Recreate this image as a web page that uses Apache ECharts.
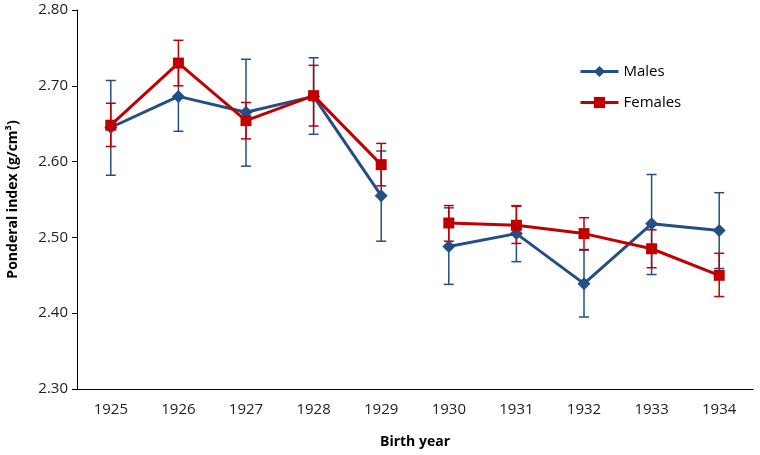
<!DOCTYPE html>
<html>
<head>
<meta charset="utf-8">
<script src="https://cdn.jsdelivr.net/npm/echarts@6/dist/echarts.min.js"></script>
<style>html,body{margin:0;padding:0;background:#fff}#c{width:760px;height:455px}</style>
</head>
<body>
<div id="c"></div>
<script>
var categories = ['1925','1926','1927','1928','1929','1930','1931','1932','1933','1934'];
var males      = [2.645, 2.686, 2.665, 2.686, 2.555, 2.488, 2.505, 2.439, 2.518, 2.509];
var malesLow   = [2.582, 2.640, 2.594, 2.636, 2.495, 2.438, 2.468, 2.395, 2.451, 2.459];
var malesHigh  = [2.707, 2.732, 2.735, 2.737, 2.614, 2.539, 2.542, 2.483, 2.583, 2.559];
var females     = [2.648, 2.730, 2.654, 2.687, 2.596, 2.519, 2.516, 2.505, 2.485, 2.450];
var femalesLow  = [2.620, 2.700, 2.630, 2.647, 2.568, 2.495, 2.492, 2.484, 2.460, 2.422];
var femalesHigh = [2.677, 2.760, 2.678, 2.727, 2.624, 2.542, 2.541, 2.526, 2.510, 2.479];
var yTicks = [2.30, 2.40, 2.50, 2.60, 2.70, 2.80];
var breakAfter = 4; // line is broken between 1929 and 1930

var BLUE = '#234f84', RED = '#c00000';
var FONT = "'Open Sans','Liberation Sans',sans-serif";

function errData(lo, hi) {
  return categories.map(function (c, i) { return [i, lo[i], hi[i]]; });
}
function errSeries(name, lo, hi, color, z) {
  return {
    type: 'custom', name: name + ' error', z: z, silent: true,
    data: errData(lo, hi),
    encode: { x: 0, y: [1, 2] },
    renderItem: function (params, api) {
      var x = api.value(0);
      var p1 = api.coord([x, api.value(1)]);
      var p2 = api.coord([x, api.value(2)]);
      var w = 5;
      var st = { stroke: color, lineWidth: 1.5 };
      return {
        type: 'group',
        children: [
          { type: 'line', shape: { x1: p1[0], y1: p1[1], x2: p2[0], y2: p2[1] }, style: st },
          { type: 'line', shape: { x1: p1[0] - w, y1: p1[1], x2: p1[0] + w, y2: p1[1] }, style: st },
          { type: 'line', shape: { x1: p2[0] - w, y1: p2[1], x2: p2[0] + w, y2: p2[1] }, style: st }
        ]
      };
    }
  };
}
function segment(vals, first) {
  return vals.map(function (v, i) {
    return (first ? i <= breakAfter : i > breakAfter) ? v : null;
  });
}
function lineSeries(name, vals, first, color, symbol, size, z) {
  return {
    name: name, type: 'line', data: segment(vals, first), z: z,
    connectNulls: false,
    symbol: symbol, symbolSize: size,
    lineStyle: { color: color, width: 3 }, itemStyle: { color: color }
  };
}

var chart = echarts.init(document.getElementById('c'));
chart.setOption({
  animation: false,
  backgroundColor: '#fff',
  grid: { left: 77, right: 7, top: 10, bottom: 66, outerBoundsMode: 'none' },
  legend: {
    data: ['Males', 'Females'],
    orient: 'vertical', left: 574, top: 59, itemGap: 16,
    itemWidth: 38, itemHeight: 14,
    lineStyle: { width: 3 },
    textStyle: { fontFamily: FONT, fontSize: 15, color: '#000' }
  },
  xAxis: {
    type: 'category', data: categories,
    name: 'Birth year', nameLocation: 'middle', nameGap: 46,
    nameTextStyle: { fontFamily: FONT, fontSize: 14, fontWeight: 'bold', color: '#000' },
    axisLine: { lineStyle: { color: '#000', width: 1 } },
    axisTick: { alignWithLabel: true, length: 5, lineStyle: { color: '#000' } },
    axisLabel: { fontFamily: FONT, fontSize: 15, color: '#222', margin: 13 }
  },
  yAxis: {
    type: 'value', min: 2.3, max: 2.8, interval: 0.1,
    name: 'Ponderal index (g/cm\u00b3)', nameLocation: 'middle', nameGap: 57,
    nameTextStyle: { fontFamily: FONT, fontSize: 14, fontWeight: 'bold', color: '#000' },
    axisLine: { show: true, lineStyle: { color: '#000', width: 1 } },
    axisTick: { show: true, length: 5, lineStyle: { color: '#000' } },
    splitLine: { show: false },
    axisLabel: {
      fontFamily: FONT, fontSize: 15, color: '#222', margin: 9,
      formatter: function (v) { return v.toFixed(2); }
    }
  },
  series: [
    errSeries('Males', malesLow, malesHigh, BLUE, 2),
    errSeries('Females', femalesLow, femalesHigh, RED, 3),
    lineSeries('Males', males, true, BLUE, 'diamond', 13, 4),
    lineSeries('Males', males, false, BLUE, 'diamond', 13, 4),
    lineSeries('Females', females, true, RED, 'rect', 11, 5),
    lineSeries('Females', females, false, RED, 'rect', 11, 5)
  ]
});
</script>
</body>
</html>
